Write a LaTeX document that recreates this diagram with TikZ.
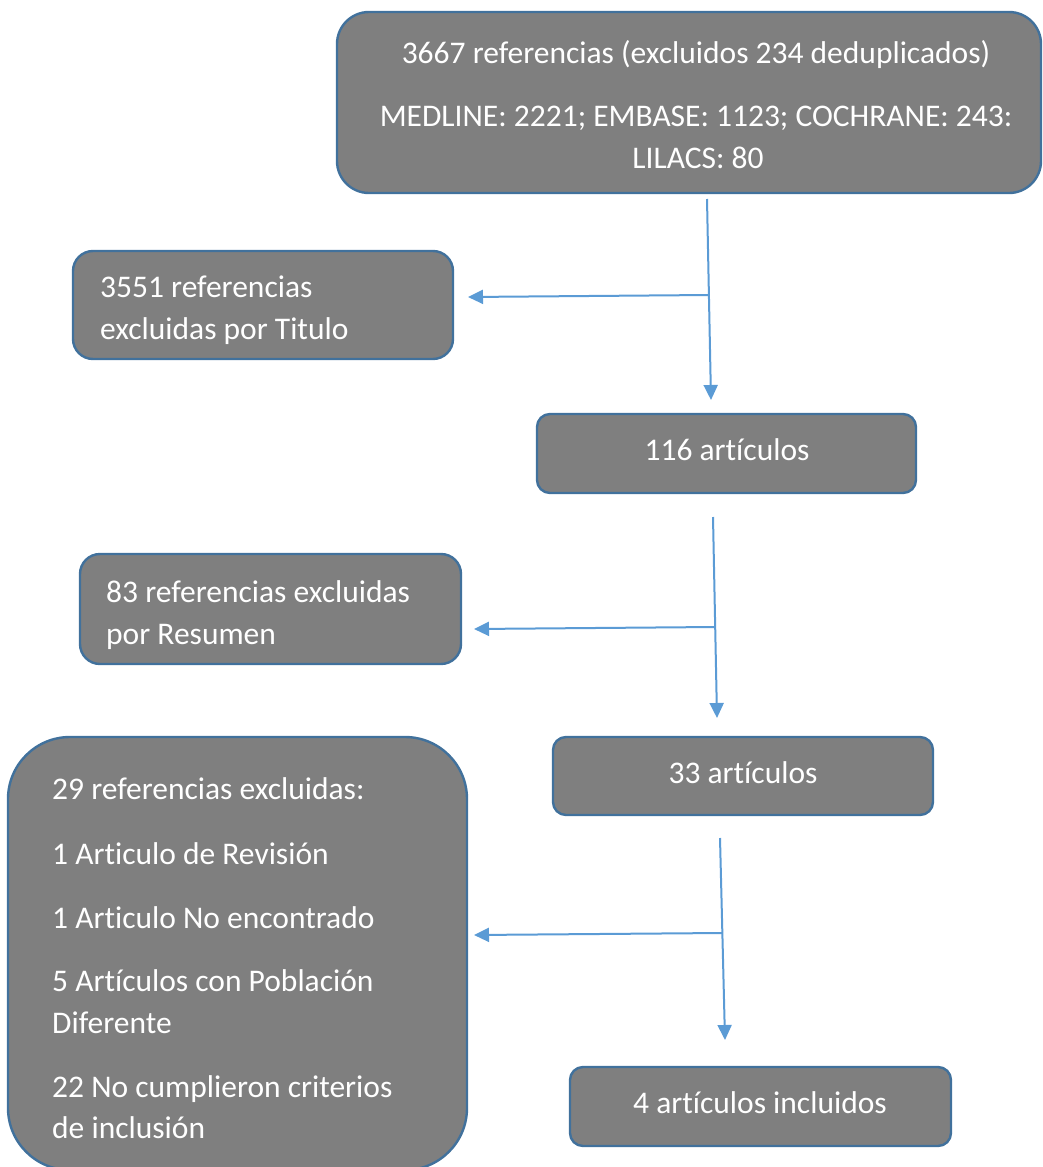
\documentclass[tikz,border=0pt]{standalone}
\usepackage{fontspec}
\setmainfont{Carlito}[RawFeature={-liga;-clig;-dlig}]
\usetikzlibrary{arrows.meta}
\definecolor{boxgray}{HTML}{7F7F7F}
\definecolor{boxline}{HTML}{41719C}
\definecolor{arrowblue}{HTML}{5B9BD5}
\tikzset{
  flowbox/.style={draw=boxline, fill=boxgray, line width=2.4pt, inner sep=0pt},
  txt/.style={text=white, inner sep=0pt, font=\fontsize{31.5}{42}\selectfont},
  arr/.style={draw=arrowblue, line width=2pt, -{Triangle[length=15pt,width=14pt]}},
  seg/.style={draw=arrowblue, line width=2pt}
}
\begin{document}
\begin{tikzpicture}[x=1pt,y=-1pt]
\useasboundingbox (0,0) rectangle (1043,1167);
\clip (0,0) rectangle (1043,1167);
% boxes
\node[flowbox, rounded corners=32pt, minimum width=704pt, minimum height=181pt] (top) at (689,102.5) {};
\node[flowbox, rounded corners=20pt, minimum width=380pt, minimum height=108pt] (excl1) at (263,305) {};
\node[flowbox, rounded corners=13pt, minimum width=379pt, minimum height=79pt] (n116) at (726.5,453.5) {};
\node[flowbox, rounded corners=20pt, minimum width=381pt, minimum height=110pt] (excl2) at (270.5,609) {};
\node[flowbox, rounded corners=13pt, minimum width=380pt, minimum height=78pt] (n33) at (743,776) {};
\node[flowbox, rounded corners=62pt, minimum width=459pt, minimum height=433pt] (excl3) at (237.5,953.5) {};
\node[flowbox, rounded corners=13pt, minimum width=381pt, minimum height=79pt] (n4) at (760.5,1106.5) {};
% texts
\node[txt, anchor=base] (t1) at (696,63) {3667 referencias (excluidos 234 deduplicados)};
\node[txt, anchor=base] (t2) at (696,126) {MEDLINE: 2221; EMBASE: 1123; COCHRANE: 243:};
\node[txt, anchor=base] (t3) at (698,168) {LILACS: 80};
\node[txt, anchor=base west] (e1a) at (100,297) {3551 referencias};
\node[txt, anchor=base west] (e1b) at (100,339) {excluidas por Titulo};
\node[txt, anchor=base] (t116) at (727,460) {116 artículos};
\node[txt, anchor=base west] (e2a) at (106,602) {83 referencias excluidas};
\node[txt, anchor=base west] (e2b) at (106,644) {por Resumen};
\node[txt, anchor=base] (t33) at (743,783) {33 artículos};
\node[txt, anchor=base west] (e3a) at (52,799) {29 referencias excluidas:};
\node[txt, anchor=base west] (e3b) at (52,864) {1 Articulo de Revisión};
\node[txt, anchor=base west] (e3c) at (52,928) {1 Articulo No encontrado};
\node[txt, anchor=base west] (e3d) at (52,991) {5 Artículos con Población};
\node[txt, anchor=base west] (e3e) at (52,1033) {Diferente};
\node[txt, anchor=base west] (e3f) at (52,1097) {22 No cumplieron criterios};
\node[txt, anchor=base west] (e3g) at (52,1138) {de inclusión};
\node[txt, anchor=base] (t4) at (760,1113) {4 artículos incluidos};
% connector coordinates
\coordinate (v1s) at (707,199);
\coordinate (v1e) at (711,400);
\coordinate (b1s) at (709,295);
\coordinate (b1e) at (468,297);
\coordinate (v2s) at (713,517);
\coordinate (v2e) at (717,718);
\coordinate (b2s) at (715,627);
\coordinate (b2e) at (474,629);
\coordinate (v3s) at (720,838);
\coordinate (v3e) at (725,1040);
\coordinate (b3s) at (722,933);
\coordinate (b3e) at (474,935);
% connectors
\draw[arr] (v1s) -- (v1e);
\draw[arr] (b1s) -- (b1e);
\draw[arr] (v2s) -- (v2e);
\draw[arr] (b2s) -- (b2e);
\draw[arr] (v3s) -- (v3e);
\draw[arr] (b3s) -- (b3e);
\end{tikzpicture}
\end{document}
